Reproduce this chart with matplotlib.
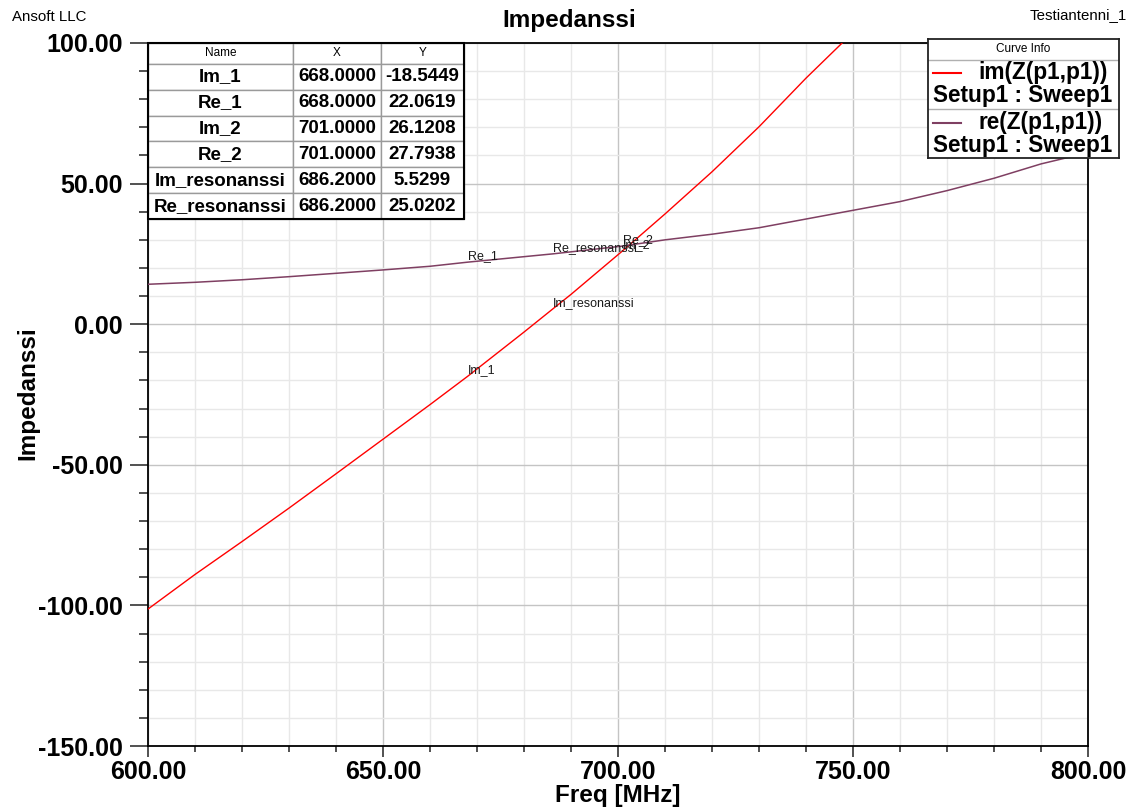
import matplotlib
matplotlib.use("Agg")
import matplotlib.pyplot as plt
from matplotlib.ticker import MultipleLocator, FormatStrFormatter
from matplotlib.patches import Rectangle

plt.rcParams['font.family'] = ['Liberation Sans', 'DejaVu Sans']

# im(Z(p1,p1)) versus frequency
freq_im = [600, 610, 620, 630, 640, 650, 660, 668, 680, 686.2, 690, 701,
           710, 720, 730, 740, 748, 750]
im_z = [-101.3, -89.0, -77.3, -65.4, -53.2, -40.9, -28.6, -18.5449, -2.8,
        5.5299, 10.6, 26.1208, 39.2, 54.2, 70.2, 87.5, 100.5, 104.0]

# re(Z(p1,p1)) versus frequency
freq_re = [600, 610, 620, 630, 640, 650, 660, 668, 686.2, 701, 710, 720,
           730, 740, 750, 760, 770, 780, 790, 800]
re_z = [14.2, 14.9, 15.8, 16.9, 18.1, 19.3, 20.6, 22.0619, 25.0202, 27.7938,
        30.0, 32.0, 34.3, 37.4, 40.5, 43.6, 47.5, 51.9, 57.0, 61.0]

# markers
marker_names = ['Im_1', 'Re_1', 'Im_2', 'Re_2', 'Im_resonanssi', 'Re_resonanssi']
marker_x = [668.0, 668.0, 701.0, 701.0, 686.2, 686.2]
marker_y = [-18.5449, 22.0619, 26.1208, 27.7938, 5.5299, 25.0202]

curve_names = ['im(Z(p1,p1))', 're(Z(p1,p1))']
curve_colors = ['#ff0000', '#7f3f62']
setup_name = 'Setup1 : Sweep1'

W, H = 1138, 810
fig = plt.figure(figsize=(W / 100, H / 100), dpi=100)
fig.patch.set_facecolor('white')

ax = fig.add_axes([148 / W, 64 / H, 940 / W, 703 / H])
ax.set_xlim(600, 800)
ax.set_ylim(-150, 100)

ax.xaxis.set_major_locator(MultipleLocator(50))
ax.xaxis.set_minor_locator(MultipleLocator(10))
ax.yaxis.set_major_locator(MultipleLocator(50))
ax.yaxis.set_minor_locator(MultipleLocator(10))
ax.xaxis.set_major_formatter(FormatStrFormatter('%.2f'))
ax.yaxis.set_major_formatter(FormatStrFormatter('%.2f'))

ax.set_axisbelow(True)
ax.grid(which='minor', color='#e8e8e8', linewidth=1.0)
ax.grid(which='major', color='#c4c4c4', linewidth=1.0)

for sp in ax.spines.values():
    sp.set_color('black')
    sp.set_linewidth(1.3)

ax.tick_params(axis='y', which='major', length=13, width=1.2, color='#333333',
               pad=5, labelsize=18)
ax.tick_params(axis='y', which='minor', length=6.5, width=1.2, color='#333333')
ax.tick_params(axis='x', which='major', length=8, width=1.2, color='#333333',
               pad=2, labelsize=18)
ax.tick_params(axis='x', which='minor', length=4.3, width=1.2, color='#333333')
for lab in ax.get_xticklabels() + ax.get_yticklabels():
    lab.set_fontweight('bold')

ax.plot(freq_im, im_z, color=curve_colors[0], linewidth=1.0, zorder=3)
ax.plot(freq_re, re_z, color=curve_colors[1], linewidth=1.1, zorder=3)

for name, mx, my in zip(marker_names, marker_x, marker_y):
    ax.text(mx, my, name, ha='left', va='bottom', fontsize=9,
            color='#1a1a1a', zorder=4)

ax.set_xlabel('Freq [MHz]', fontsize=17.5, fontweight='bold')
ax.xaxis.label.set_va('baseline')
ax.xaxis.set_label_coords(0.5, (746 - 801.7) / 703)
ax.set_ylabel('Impedanssi', fontsize=17.5, fontweight='bold')
ax.yaxis.label.set_va('center')
ax.yaxis.label.set_rotation_mode('default')
ax.yaxis.set_label_coords((28 - 148) / 940, (746 - 393.5) / 703)

# marker table
cell_text = [[n, f'{x:.4f}', f'{y:.4f}'] for n, x, y in zip(marker_names, marker_x, marker_y)]
tbl_w = (464 - 148) / 940
tbl_h = (219 - 43) / 703
tbl = ax.table(cellText=cell_text, colLabels=['Name', 'X', 'Y'],
               cellLoc='center', bbox=[0, 1 - tbl_h, tbl_w, tbl_h])
tbl.auto_set_font_size(False)
col_w = [145, 88, 83]
for (r, c), cell in tbl.get_celld().items():
    cell.set_width(col_w[c])
    cell.set_height(21 if r == 0 else 26)
    cell.set_edgecolor('#9a9a9a')
    cell.set_linewidth(1.0)
    cell.set_facecolor('white')
    if r == 0:
        cell.get_text().set_fontsize(8.5)
    else:
        cell.get_text().set_fontsize(13.5)
        cell.get_text().set_fontweight('bold')
tbl.set_zorder(6)
ax.add_patch(Rectangle((0, 1 - tbl_h), tbl_w, tbl_h, transform=ax.transAxes,
                       fill=False, edgecolor='black', linewidth=1.5,
                       zorder=7, clip_on=False))

# curve info box
lx0, ly0, lw, lh = 928, 39, 191, 119
lg = fig.add_axes([lx0 / W, 1 - (ly0 + lh) / H, lw / W, lh / H])
lg.set_xlim(0, lw)
lg.set_ylim(lh, 0)
lg.set_xticks([])
lg.set_yticks([])
lg.set_facecolor('white')
for sp in lg.spines.values():
    sp.set_color('#222222')
    sp.set_linewidth(1.3)
lg.axhline(21, color='#b0b0b0', linewidth=1.0)
lg.axhline(70, color='#b0b0b0', linewidth=1.0)
lg.text(lw / 2, 10.5, 'Curve Info', ha='center', va='center', fontsize=8.5)
for i, (name, col) in enumerate(zip(curve_names, curve_colors)):
    y0 = 33.7 + i * 50
    lg.plot([5, 33], [y0, y0], color=col, linewidth=1.5)
    lg.text(50, y0 + 6.5, name, ha='left', va='baseline', fontsize=16.3,
            fontweight='bold')
    lg.text(5, y0 + 29, setup_name, ha='left', va='baseline', fontsize=16.3,
            fontweight='bold')

fig.text(0.5, 1 - 26.7 / H, 'Impedanssi', ha='center', va='baseline',
         fontsize=17.5, fontweight='bold')
fig.text(11.7 / W, 1 - 16.7 / H, 'Ansoft LLC', ha='left', va='center',
         fontsize=10.8)
fig.text(1127 / W, 1 - 15 / H, 'Testiantenni_1', ha='right', va='center',
         fontsize=10.8)

fig.savefig('out.png', dpi=100, facecolor='white')
